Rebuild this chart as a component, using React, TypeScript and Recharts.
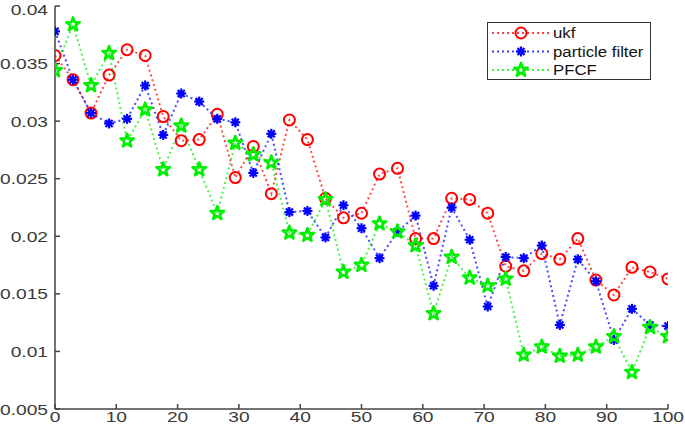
import { Legend, Line, LineChart, XAxis, YAxis } from 'recharts';

const xs = [
  0, 2.94, 5.88, 8.82, 11.76, 14.71, 17.65, 20.59, 23.53, 26.47, 29.41, 32.35, 35.29, 38.24, 41.18, 44.12, 47.06, 50,
  52.94, 55.88, 58.82, 61.76, 64.71, 67.65, 70.59, 73.53, 76.47, 79.41, 82.35, 85.29, 88.24, 91.18, 94.12, 97.06, 100,
];

const ukf = [
  0.0357, 0.0336, 0.0307, 0.034, 0.0362, 0.0357, 0.0304, 0.0283, 0.0284, 0.0306, 0.0251, 0.0278, 0.0237, 0.0301,
  0.0284, 0.0233, 0.0216, 0.022, 0.0254, 0.0259, 0.0198, 0.0198, 0.0233, 0.0232, 0.022, 0.0174, 0.017, 0.0185, 0.018,
  0.0198, 0.0162, 0.0149, 0.0173, 0.0169, 0.0163,
];

const particleFilter = [
  0.0378, 0.0336, 0.0307, 0.0298, 0.0302, 0.0331, 0.0288, 0.0324, 0.0317, 0.0302, 0.0299, 0.0255, 0.0289, 0.0221,
  0.0222, 0.0199, 0.0227, 0.0207, 0.0181, 0.0204, 0.0218, 0.0157, 0.0225, 0.0197, 0.0139, 0.0182, 0.0181, 0.0192,
  0.0123, 0.018, 0.0161, 0.011, 0.0137, 0.0123, 0.0122,
];

const pfcf = [
  0.0344, 0.0384, 0.0331, 0.0359, 0.0283, 0.031, 0.0258, 0.0296, 0.0258, 0.022, 0.0281, 0.0271, 0.0264, 0.0203,
  0.0201, 0.0232, 0.0169, 0.0175, 0.0211, 0.0204, 0.0192, 0.0133, 0.0182, 0.0164, 0.0157, 0.0163, 0.0097, 0.0104,
  0.0096, 0.0097, 0.0104, 0.0113, 0.0082, 0.0121, 0.0113,
];

const xTicks = [0, 10, 20, 30, 40, 50, 60, 70, 80, 90, 100];
const yTicks = [0.005, 0.01, 0.015, 0.02, 0.025, 0.03, 0.035, 0.04];
const yLabels = ['0.005', '0.01', '0.015', '0.02', '0.025', '0.03', '0.035', '0.04'];

const data = xs.map((x, i) => ({ x, ukf: ukf[i], pf: particleFilter[i], pfcf: pfcf[i] }));

const FONT = 'Liberation Sans, Arial, sans-serif';
const AXIS = '#444';
const RED = '#ff0000';
const BLUE = '#0000ff';
const GREEN = '#00ee00';

function CircleMark({ cx, cy }: any) {
  if (cx == null || cy == null) return <g />;
  return <circle cx={cx} cy={cy} r={5.5} fill="none" stroke={RED} strokeWidth={2} />;
}

function AsteriskMark({ cx, cy }: any) {
  if (cx == null || cy == null) return <g />;
  const r = 5;
  const d = r * 0.707;
  return (
    <g stroke={BLUE} strokeWidth={2.2}>
      <line x1={cx - r} y1={cy} x2={cx + r} y2={cy} />
      <line x1={cx} y1={cy - r} x2={cx} y2={cy + r} />
      <line x1={cx - d} y1={cy - d} x2={cx + d} y2={cy + d} />
      <line x1={cx - d} y1={cy + d} x2={cx + d} y2={cy - d} />
      <circle cx={cx} cy={cy} r={3} fill={BLUE} stroke="none" />
    </g>
  );
}

function starPath(cx: number, cy: number, ro: number, ri: number) {
  const pts: string[] = [];
  for (let k = 0; k < 10; k++) {
    const r = k % 2 === 0 ? ro : ri;
    const a = -Math.PI / 2 + (k * Math.PI) / 5;
    pts.push(`${(cx + r * Math.cos(a)).toFixed(2)},${(cy + r * Math.sin(a)).toFixed(2)}`);
  }
  return 'M' + pts.join('L') + 'Z';
}

function StarMark({ cx, cy }: any) {
  if (cx == null || cy == null) return <g />;
  return <path d={starPath(cx, cy, 7, 2.8)} fill="none" stroke={GREEN} strokeWidth={2.6} strokeLinejoin="round" />;
}

function XTick({ x, y, payload }: any) {
  return (
    <g transform={`translate(${x},${y}) scale(1.28,1)`}>
      <text x={0} y={11} textAnchor="middle" fontSize={15} fontFamily={FONT} fill="#3a3a3a">
        {payload.value}
      </text>
    </g>
  );
}

function YTick({ x, y, payload }: any) {
  const i = yTicks.indexOf(payload.value);
  return (
    <g transform={`translate(${x},${y}) scale(1.28,1)`}>
      <text x={0} y={5.5} textAnchor="end" fontSize={15} fontFamily={FONT} fill="#3a3a3a">
        {i >= 0 ? yLabels[i] : payload.value}
      </text>
    </g>
  );
}

const NoTick = () => <g />;

const legendRows = [
  { name: 'ukf', color: RED, Mark: CircleMark },
  { name: 'particle filter', color: BLUE, Mark: AsteriskMark },
  { name: 'PFCF', color: GREEN, Mark: StarMark },
];

function LegendBox() {
  return (
    <svg width={164} height={58} style={{ display: 'block' }}>
      <rect x={0.5} y={0.5} width={163} height={57} fill="#fff" stroke="#333" strokeWidth={1} />
      {legendRows.map((row, i) => {
        const cy = 11 + i * 18.5;
        return (
          <g key={row.name}>
            <line x1={5} y1={cy} x2={64} y2={cy} stroke={row.color} strokeWidth={2} strokeDasharray="2 3" opacity={0.75} />
            <row.Mark cx={34} cy={cy} />
            <g transform={`translate(66,${cy + 5}) scale(1.12,1)`}>
              <text x={0} y={0} fontSize={15} fontFamily={FONT} fill="#111">
                {row.name}
              </text>
            </g>
          </g>
        );
      })}
    </svg>
  );
}

export default function App() {
  return (
    <div style={{ position: 'absolute', left: 0, top: 0, background: '#fff' }}>
      <LineChart width={685} height={433} data={data} margin={{ top: 6, right: 17, bottom: 0, left: 0 }}>
        <XAxis
          xAxisId="b"
          dataKey="x"
          type="number"
          domain={[0, 100]}
          ticks={xTicks}
          height={24}
          tickSize={-5}
          tickMargin={7}
          stroke={AXIS}
          strokeWidth={1.5}
          tick={XTick}
          allowDataOverflow
        />
        <XAxis
          xAxisId="t"
          orientation="top"
          dataKey="x"
          type="number"
          domain={[0, 100]}
          ticks={xTicks}
          height={0}
          tickSize={-5}
          stroke={AXIS}
          strokeWidth={1.5}
          tick={NoTick}
          allowDataOverflow
        />
        <YAxis
          yAxisId="l"
          type="number"
          domain={[0.005, 0.04]}
          ticks={yTicks}
          width={55}
          tickSize={-5}
          tickMargin={12}
          stroke={AXIS}
          strokeWidth={1.5}
          tick={YTick}
          allowDataOverflow
        />
        <YAxis
          yAxisId="r"
          orientation="right"
          type="number"
          domain={[0.005, 0.04]}
          ticks={yTicks}
          width={0}
          tickSize={-5}
          stroke={AXIS}
          strokeWidth={1.5}
          tick={NoTick}
          allowDataOverflow
        />
        <Line
          xAxisId="b"
          yAxisId="l"
          type="linear"
          dataKey="ukf"
          name="ukf"
          stroke={RED}
          strokeOpacity={0.7}
          strokeWidth={2}
          strokeDasharray="2 3"
          dot={CircleMark}
          activeDot={false}
          isAnimationActive={false}
        />
        <Line
          xAxisId="b"
          yAxisId="l"
          type="linear"
          dataKey="pf"
          name="particle filter"
          stroke={BLUE}
          strokeOpacity={0.7}
          strokeWidth={2}
          strokeDasharray="2 3"
          dot={AsteriskMark}
          activeDot={false}
          isAnimationActive={false}
        />
        <Line
          xAxisId="b"
          yAxisId="l"
          type="linear"
          dataKey="pfcf"
          name="PFCF"
          stroke={GREEN}
          strokeOpacity={0.7}
          strokeWidth={2}
          strokeDasharray="2 3"
          dot={StarMark}
          activeDot={false}
          isAnimationActive={false}
        />
        <Legend
          layout="vertical"
          align="center"
          verticalAlign="middle"
          content={LegendBox}
          wrapperStyle={{ position: 'absolute', left: 487, top: 22, width: 164, height: 58 }}
        />
      </LineChart>
    </div>
  );
}
